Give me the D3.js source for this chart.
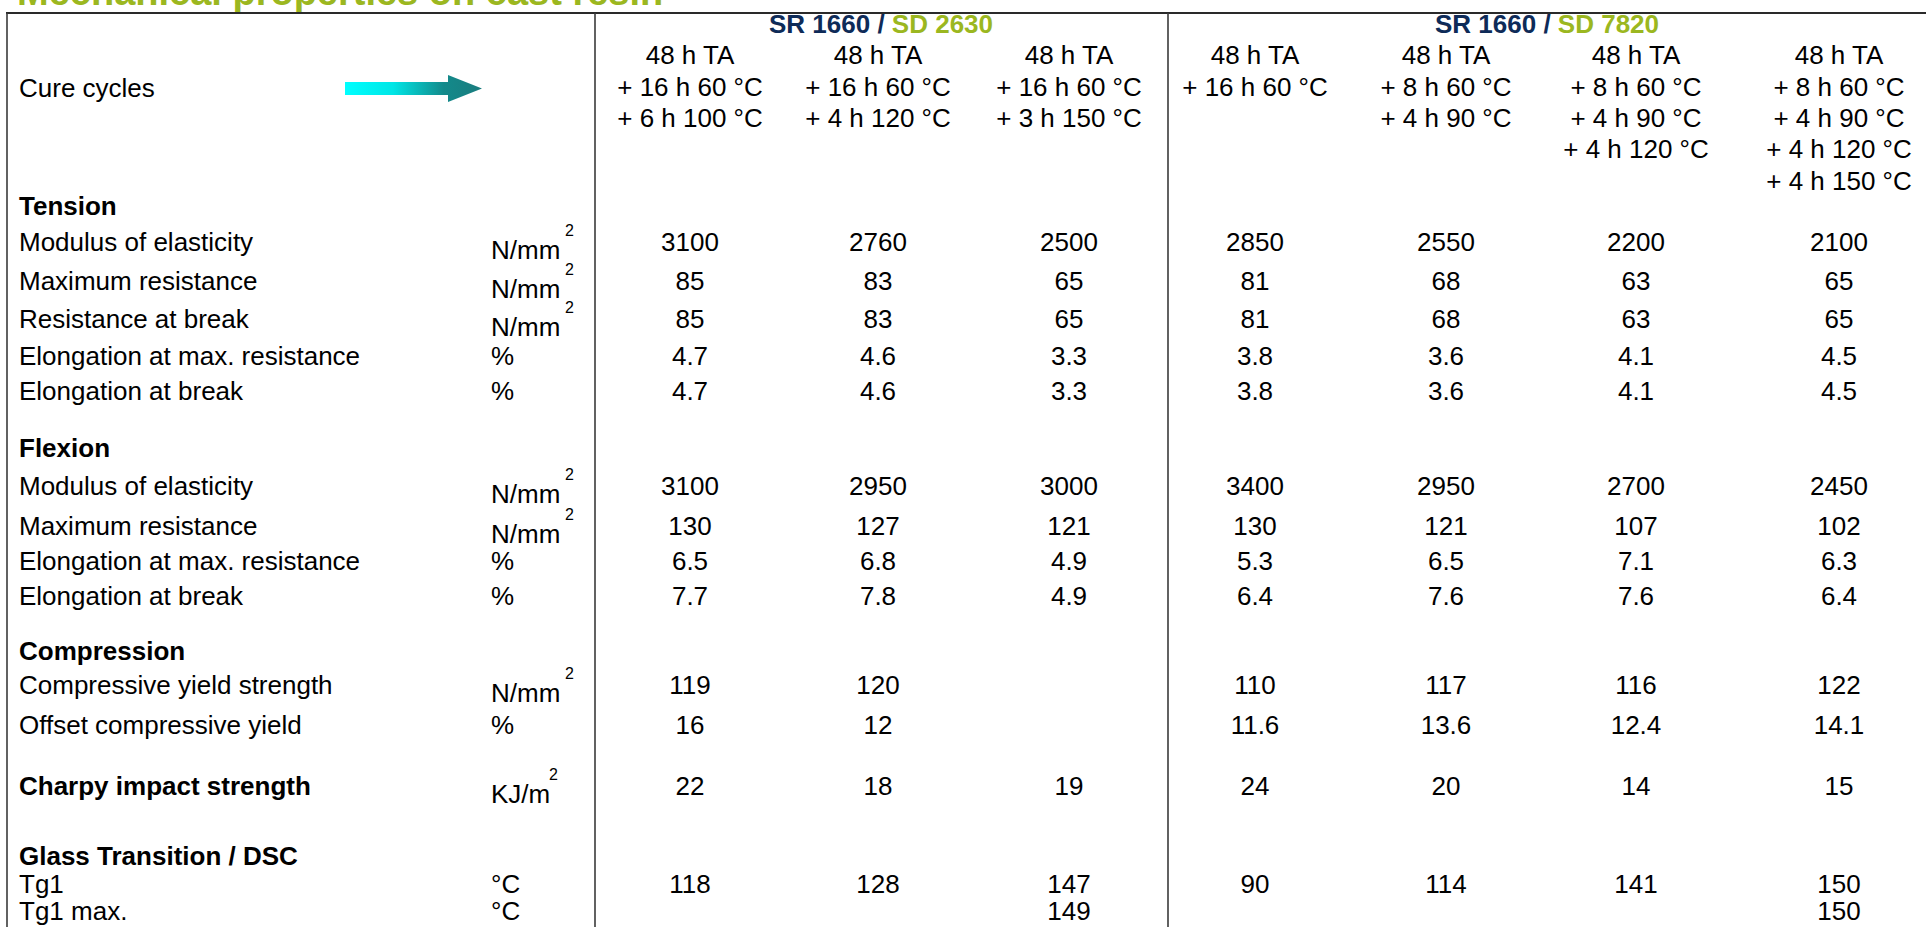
<!DOCTYPE html>
<html>
<head>
<meta charset="utf-8">
<script src="https://cdn.jsdelivr.net/npm/d3@7"></script>
<style>
  html, body { margin: 0; padding: 0; background: #ffffff; overflow: hidden; }
  svg text { font-family: "Liberation Sans", Arial, Helvetica, sans-serif; }
</style>
</head>
<body>
<svg id="chart" width="1926" height="927"></svg>
<script>
// ---------------- DATA ----------------
const title = "Mechanical properties on cast resin";
const groupResins = ["SR 1660", "SR 1660"];
const groupHardeners = ["SD 2630", "SD 7820"];
const columns = ["c1", "c2", "c3", "c4", "c5", "c6", "c7"];
const columnGroup = [0, 0, 0, 1, 1, 1, 1];
const cureCycles = [
  ["48 h TA", "+ 16 h 60 °C", "+ 6 h 100 °C"],
  ["48 h TA", "+ 16 h 60 °C", "+ 4 h 120 °C"],
  ["48 h TA", "+ 16 h 60 °C", "+ 3 h 150 °C"],
  ["48 h TA", "+ 16 h 60 °C"],
  ["48 h TA", "+ 8 h 60 °C", "+ 4 h 90 °C"],
  ["48 h TA", "+ 8 h 60 °C", "+ 4 h 90 °C", "+ 4 h 120 °C"],
  ["48 h TA", "+ 8 h 60 °C", "+ 4 h 90 °C", "+ 4 h 120 °C", "+ 4 h 150 °C"]
];
const sectionTitles = ["Tension", "Flexion", "Compression", "Glass Transition / DSC"];

const tensionModulus      = [3100, 2760, 2500, 2850, 2550, 2200, 2100];
const tensionMaxRes       = [85, 83, 65, 81, 68, 63, 65];
const tensionResBreak     = [85, 83, 65, 81, 68, 63, 65];
const tensionElongMax     = [4.7, 4.6, 3.3, 3.8, 3.6, 4.1, 4.5];
const tensionElongBreak   = [4.7, 4.6, 3.3, 3.8, 3.6, 4.1, 4.5];
const flexionModulus      = [3100, 2950, 3000, 3400, 2950, 2700, 2450];
const flexionMaxRes       = [130, 127, 121, 130, 121, 107, 102];
const flexionElongMax     = [6.5, 6.8, 4.9, 5.3, 6.5, 7.1, 6.3];
const flexionElongBreak   = [7.7, 7.8, 4.9, 6.4, 7.6, 7.6, 6.4];
const compYield           = [119, 120, null, 110, 117, 116, 122];
const compOffset          = [16, 12, null, 11.6, 13.6, 12.4, 14.1];
const charpy              = [22, 18, 19, 24, 20, 14, 15];
const tg1                 = [118, 128, 147, 90, 114, 141, 150];
const tg1Max              = [null, null, 149, null, null, null, 150];

// rows: key, label, unit, superscript, values, bold
const rows = [
  {key: "tension",  label: "Tension", bold: true},
  {key: "tMod",     label: "Modulus of elasticity", unit: "N/mm", sup: "2", values: tensionModulus},
  {key: "tMax",     label: "Maximum resistance", unit: "N/mm", sup: "2", values: tensionMaxRes},
  {key: "tBreak",   label: "Resistance at break", unit: "N/mm", sup: "2", values: tensionResBreak},
  {key: "tElMax",   label: "Elongation at max. resistance", unit: "%", values: tensionElongMax},
  {key: "tElBreak", label: "Elongation at break", unit: "%", values: tensionElongBreak},
  {key: "flexion",  label: "Flexion", bold: true},
  {key: "fMod",     label: "Modulus of elasticity", unit: "N/mm", sup: "2", values: flexionModulus},
  {key: "fMax",     label: "Maximum resistance", unit: "N/mm", sup: "2", values: flexionMaxRes},
  {key: "fElMax",   label: "Elongation at max. resistance", unit: "%", values: flexionElongMax},
  {key: "fElBreak", label: "Elongation at break", unit: "%", values: flexionElongBreak},
  {key: "comp",     label: "Compression", bold: true},
  {key: "cYield",   label: "Compressive yield strength", unit: "N/mm", sup: "2", values: compYield},
  {key: "cOffset",  label: "Offset compressive yield", unit: "%", values: compOffset},
  {key: "charpy",   label: "Charpy impact strength", unit: "KJ/m", sup: "2", values: charpy, bold: true},
  {key: "glass",    label: "Glass Transition / DSC", bold: true},
  {key: "tg1",      label: "Tg1", unit: "°C", values: tg1},
  {key: "tg1max",   label: "Tg1 max.", unit: "°C", values: tg1Max}
];

// ---------------- LAYOUT ----------------
const W = 1926, H = 927;
const svg = d3.select("#chart");
const FS = 26;
const navy = "#0e2b58", green = "#9bb720";

// column centers
const x = d3.scaleOrdinal().domain(columns).range([690, 878, 1069, 1255, 1446, 1636, 1839]);
// row text vertical centers
const y = d3.scaleOrdinal().domain(rows.map(r => r.key))
  .range([206, 242, 281, 319, 356, 391, 448, 486, 526, 561, 596, 651, 685, 725, 786, 856, 884, 911]);
const headerLine = d3.scaleLinear().domain([0, 1]).range([55.3, 86.6]);
const groupX = d3.scaleOrdinal().domain([0, 1]).range([881, 1547]);
const labelX = 19, unitX = 491, supX = 565;
const dividers = [7, 595, 1168];
const topY = 13;
const base = 9; // cap-center -> baseline offset

// title (partially cut at top, as in the source)
svg.append("text").attr("x", 17).attr("y", 4.5)
  .attr("font-size", 38).attr("font-weight", "bold").attr("fill", green)
  .text(title);

// frame lines
svg.append("line").attr("x1", 6).attr("x2", W).attr("y1", topY).attr("y2", topY)
  .attr("stroke", "#2a2a2a").attr("stroke-width", 2.2);
svg.selectAll("line.div").data(dividers).enter().append("line")
  .attr("class", "div")
  .attr("x1", d => d).attr("x2", d => d).attr("y1", topY).attr("y2", H)
  .attr("stroke", "#3a3a3a").attr("stroke-width", 1.6);

// group headers
const gh = svg.selectAll("text.gh").data([0, 1]).enter().append("text")
  .attr("class", "gh")
  .attr("x", d => groupX(d)).attr("y", 23.5 + base)
  .attr("text-anchor", "middle").attr("font-size", FS).attr("font-weight", "bold");
gh.append("tspan").attr("fill", navy).text(d => groupResins[d] + " ");
gh.append("tspan").attr("fill", navy).text("/ ");
gh.append("tspan").attr("fill", green).text(d => groupHardeners[d]);

// cure cycle label + arrow
svg.append("text").attr("x", labelX).attr("y", 88.4 + base).attr("font-size", FS)
  .attr("fill", "#000").text("Cure cycles");
const defs = svg.append("defs");
const grad = defs.append("linearGradient").attr("id", "arrowGrad")
  .attr("gradientUnits", "userSpaceOnUse").attr("x1", 345).attr("x2", 482).attr("y1", 0).attr("y2", 0);
grad.append("stop").attr("offset", 0).attr("stop-color", "#00ffff");
grad.append("stop").attr("offset", 0.35).attr("stop-color", "#00e6e6");
grad.append("stop").attr("offset", 0.72).attr("stop-color", "#138a8b");
grad.append("stop").attr("offset", 1).attr("stop-color", "#1a7c7e");
const ay = 88.5;
const arrowPath = d3.path();
arrowPath.moveTo(345, ay - 6.5);
arrowPath.lineTo(448, ay - 6.5);
arrowPath.lineTo(448, ay - 13.5);
arrowPath.lineTo(482, ay);
arrowPath.lineTo(448, ay + 13.5);
arrowPath.lineTo(448, ay + 6.5);
arrowPath.lineTo(345, ay + 6.5);
arrowPath.closePath();
svg.append("path").attr("d", arrowPath.toString()).attr("fill", "url(#arrowGrad)");

// cure cycle column headers
const cc = svg.selectAll("g.cc").data(columns).enter().append("g").attr("class", "cc");
cc.each(function(c, i) {
  d3.select(this).selectAll("text").data(cureCycles[i]).enter().append("text")
    .attr("x", x(c)).attr("y", (d, j) => headerLine(j) + base)
    .attr("text-anchor", "middle").attr("font-size", FS).attr("fill", "#000")
    .text(d => d);
});

// row labels
svg.selectAll("text.rl").data(rows).enter().append("text")
  .attr("class", "rl")
  .attr("x", labelX).attr("y", d => y(d.key) + base)
  .attr("font-size", FS).attr("font-weight", d => d.bold ? "bold" : "normal")
  .attr("fill", "#000").text(d => d.label);

// units
const unitRows = rows.filter(r => r.unit);
svg.selectAll("text.un").data(unitRows).enter().append("text")
  .attr("class", "un")
  .attr("x", unitX).attr("y", d => y(d.key) + base + (d.sup ? 8 : 0))
  .attr("font-size", FS).attr("fill", "#000").text(d => d.unit);
svg.selectAll("text.sup").data(unitRows.filter(r => r.sup)).enter().append("text")
  .attr("class", "sup")
  .attr("x", d => d.unit === "KJ/m" ? supX - 16 : supX).attr("y", d => y(d.key) + base + 8 - 23)
  .attr("font-size", 16).attr("fill", "#000").text(d => d.sup);

// values
const cells = [];
rows.filter(r => r.values).forEach(r => {
  r.values.forEach((v, i) => { if (v !== null) cells.push({row: r.key, col: columns[i], v}); });
});
svg.selectAll("text.val").data(cells).enter().append("text")
  .attr("class", "val")
  .attr("x", d => x(d.col)).attr("y", d => y(d.row) + base)
  .attr("text-anchor", "middle").attr("font-size", FS).attr("fill", "#000")
  .text(d => String(d.v));
</script>
</body>
</html>
